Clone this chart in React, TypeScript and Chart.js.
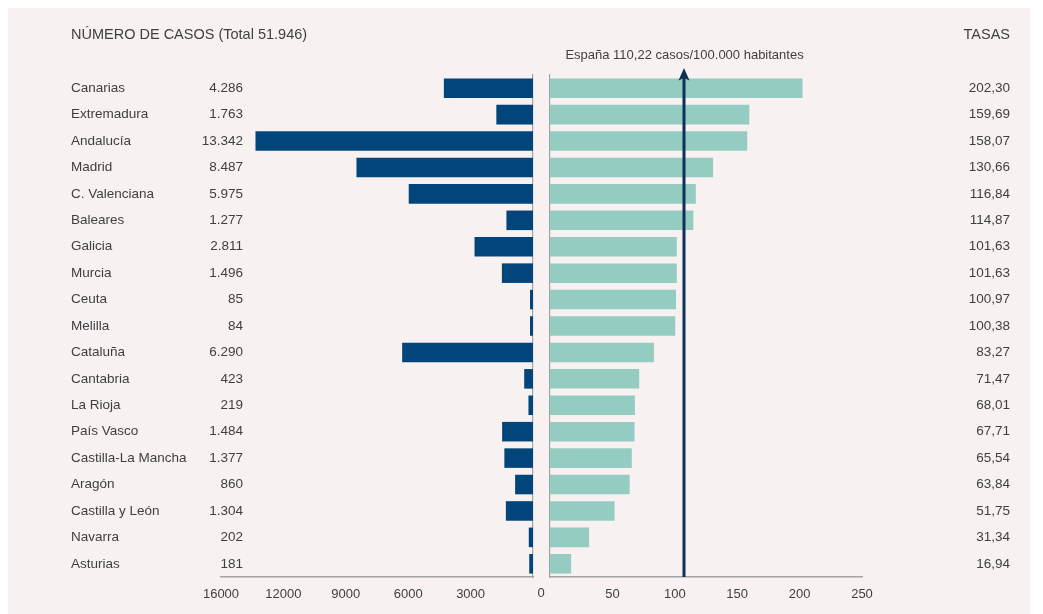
import { useEffect, useRef } from "react";
import { Chart, registerables } from "chart.js";

Chart.register(...registerables);

// ---------- data ----------
const REGIONS = [
  "Canarias", "Extremadura", "Andalucía", "Madrid", "C. Valenciana", "Baleares",
  "Galicia", "Murcia", "Ceuta", "Melilla", "Cataluña", "Cantabria", "La Rioja",
  "País Vasco", "Castilla-La Mancha", "Aragón", "Castilla y León", "Navarra", "Asturias",
];
const CASES = [4286, 1763, 13342, 8487, 5975, 1277, 2811, 1496, 85, 84, 6290, 423, 219, 1484, 1377, 860, 1304, 202, 181];
const RATES = [202.3, 159.69, 158.07, 130.66, 116.84, 114.87, 101.63, 101.63, 100.97, 100.38, 83.27, 71.47, 68.01, 67.71, 65.54, 63.84, 51.75, 31.34, 16.94];
const CASES_TICK_VALUES = [0, 3000, 6000, 9000, 12000, 15000];
const CASES_TICK_LABELS = ["0", "3000", "6000", "9000", "12000", "16000"];
const RATE_TICK_VALUES = [0, 50, 100, 150, 200, 250];
const TITLE_LEFT = "NÚMERO DE CASOS (Total 51.946)";
const TITLE_RIGHT = "TASAS";
const SPAIN_LABEL = "España 110,22 casos/100.000 habitantes";
const SPAIN_MARK = 107;

// ---------- layout / style ----------
const W = 1022;
const H = 606;
const TOP = 67;
const BOTTOM = 569;
const L_LEFT = 213;
const L_RIGHT = 525;
const R_LEFT = 542;
const R_RIGHT = 854;
const AXIS_H = H - BOTTOM;
const BG = "#f7f1f1";
const TEXT = "#3f3f3f";
const AXIS = "#a3a3a3";
const DARK = "#01457b";
const TEAL = "#94ccc2";
const ARROW = "#0f3157";
const FONT = '"Liberation Sans", Arial, Helvetica, sans-serif';

const fmtInt = (n: number) => String(n).replace(/\B(?=(\d{3})+(?!\d))/g, ".");
const fmtRate = (n: number) => n.toFixed(2).replace(".", ",");

function text(ctx: CanvasRenderingContext2D, s: string, x: number, y: number, size: number, align: CanvasTextAlign) {
  ctx.save();
  ctx.font = `${size}px ${FONT}`;
  ctx.fillStyle = TEXT;
  ctx.textAlign = align;
  ctx.textBaseline = "middle";
  ctx.fillText(s, x, y);
  ctx.restore();
}

export default function App() {
  const leftRef = useRef<HTMLCanvasElement>(null);
  const rightRef = useRef<HTMLCanvasElement>(null);

  useEffect(() => {
    const leftLabels = {
      id: "leftLabels",
      afterDraw(chart: any) {
        const ctx = chart.ctx as CanvasRenderingContext2D;
        const ys = chart.scales.y;
        text(ctx, TITLE_LEFT, 63, 26.5, 14.5, "left");
        REGIONS.forEach((r, i) => {
          const y = ys.getPixelForValue(i);
          text(ctx, r, 63, y, 13.5, "left");
          text(ctx, fmtInt(CASES[i]), 235, y, 13.5, "right");
        });
      },
    };

    const rightLabels = {
      id: "rightLabels",
      afterDatasetsDraw(chart: any) {
        const ctx = chart.ctx as CanvasRenderingContext2D;
        const xs = chart.scales.x;
        const x = Math.round(xs.getPixelForValue(SPAIN_MARK));
        ctx.save();
        ctx.strokeStyle = ARROW;
        ctx.lineWidth = 3;
        ctx.beginPath();
        ctx.moveTo(x, chart.chartArea.bottom);
        ctx.lineTo(x, 68);
        ctx.stroke();
        ctx.fillStyle = ARROW;
        ctx.beginPath();
        ctx.moveTo(x, 60);
        ctx.lineTo(x - 5.5, 72.5);
        ctx.lineTo(x, 70);
        ctx.lineTo(x + 5.5, 72.5);
        ctx.closePath();
        ctx.fill();
        ctx.restore();
      },
      afterDraw(chart: any) {
        const ctx = chart.ctx as CanvasRenderingContext2D;
        const ys = chart.scales.y;
        const xs = chart.scales.x;
        text(ctx, TITLE_RIGHT, 1002, 26.5, 14.5, "right");
        RATES.forEach((v, i) => {
          text(ctx, fmtRate(v), 1002, ys.getPixelForValue(i), 13.5, "right");
        });
        const ax = xs.getPixelForValue(SPAIN_MARK);
        text(ctx, SPAIN_LABEL, ax + 1, 47, 13, "center");
        text(ctx, "0", chart.chartArea.left - 9, 585.5, 13, "center");
      },
    };

    const common = (padLeft: number, padRight: number) => ({
      indexAxis: "y" as const,
      animation: false as const,
      responsive: false,
      maintainAspectRatio: false,
      layout: { padding: { left: padLeft, right: padRight, top: TOP, bottom: 0 } },
      plugins: { legend: { display: false }, tooltip: { enabled: false } },
    });

    const left = new Chart(leftRef.current!, {
      type: "bar",
      data: {
        labels: REGIONS,
        datasets: [{
          data: CASES,
          backgroundColor: DARK,
          barPercentage: 0.74,
          categoryPercentage: 1,
          minBarLength: 3,
        }],
      },
      options: {
        ...common(L_LEFT, W - L_RIGHT),
        scales: {
          x: {
            type: "linear",
            reverse: true,
            min: CASES_TICK_VALUES[0],
            max: CASES_TICK_VALUES[CASES_TICK_VALUES.length - 1],
            afterFit: (s: any) => { s.height = AXIS_H; },
            afterBuildTicks: (s: any) => { s.ticks = CASES_TICK_VALUES.map((v) => ({ value: v })); },
            grid: { display: false, drawTicks: false },
            border: { display: true, color: AXIS, width: 1.5 },
            ticks: {
              padding: 10,
              color: TEXT,
              font: { family: FONT, size: 13 },
              maxRotation: 0,
              autoSkip: false,
              callback: (v: any) => {
                const i = CASES_TICK_VALUES.indexOf(Number(v));
                return i <= 0 ? "" : CASES_TICK_LABELS[i];
              },
            },
          },
          y: {
            type: "category",
            position: "right",
            afterFit: (s: any) => { s.width = 0; },
            grid: { display: false, drawTicks: false },
            ticks: { display: false },
            border: { display: true, color: AXIS, width: 1.2 },
          },
        },
      } as any,
      plugins: [leftLabels],
    });

    const right = new Chart(rightRef.current!, {
      type: "bar",
      data: {
        labels: REGIONS,
        datasets: [{
          data: RATES,
          backgroundColor: TEAL,
          barPercentage: 0.74,
          categoryPercentage: 1,
        }],
      },
      options: {
        ...common(R_LEFT, W - R_RIGHT),
        scales: {
          x: {
            type: "linear",
            min: RATE_TICK_VALUES[0],
            max: RATE_TICK_VALUES[RATE_TICK_VALUES.length - 1],
            afterFit: (s: any) => { s.height = AXIS_H; },
            afterBuildTicks: (s: any) => { s.ticks = RATE_TICK_VALUES.map((v) => ({ value: v })); },
            grid: { display: false, drawTicks: false },
            border: { display: true, color: AXIS, width: 1.5 },
            ticks: {
              padding: 10,
              color: TEXT,
              font: { family: FONT, size: 13 },
              maxRotation: 0,
              autoSkip: false,
              callback: (v: any) => (Number(v) === 0 ? "" : String(v)),
            },
          },
          y: {
            type: "category",
            position: "left",
            afterFit: (s: any) => { s.width = 0; },
            grid: { display: false, drawTicks: false },
            ticks: { display: false },
            border: { display: true, color: AXIS, width: 1.2 },
          },
        },
      } as any,
      plugins: [rightLabels],
    });

    return () => {
      left.destroy();
      right.destroy();
    };
  }, []);

  const cs: any = { position: "absolute", left: 0, top: 0, width: W, height: H };
  return (
    <div style={{ position: "relative", width: W, height: H, background: BG }}>
      <canvas ref={leftRef} width={W} height={H} style={cs} />
      <canvas ref={rightRef} width={W} height={H} style={cs} />
    </div>
  );
}
